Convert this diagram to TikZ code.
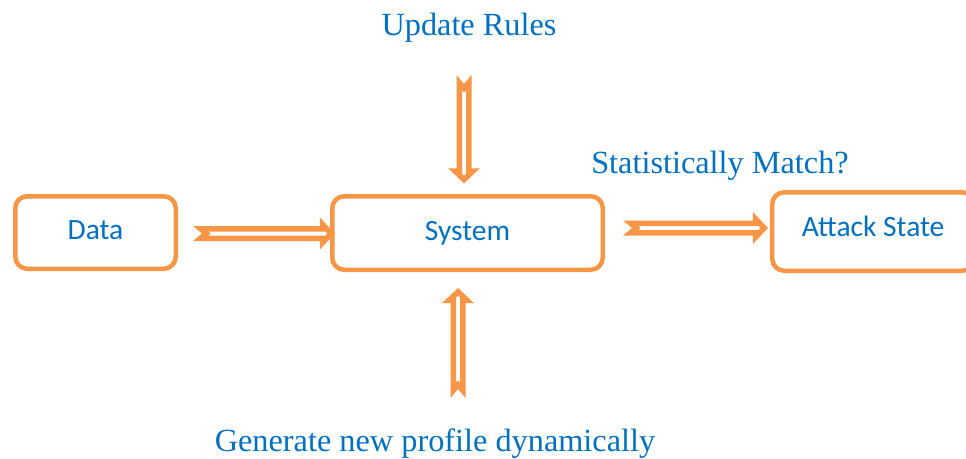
\documentclass[tikz,border=0pt]{standalone}
\usepackage{fontspec}
\setmainfont{Liberation Serif}
\newfontfamily\boxfont{Carlito}
\usetikzlibrary{calc}

\definecolor{accent}{HTML}{F79646}
\definecolor{labelblue}{HTML}{0070C0}

% geometry of the notched hollow arrows (measured on the centre line of the outline)
\newcommand\arShaft{4.75}
\newcommand\arHead{9}
\newcommand\arHeadLen{8.5}
\newcommand\arNotch{5.7}

\tikzset{
  box/.style={draw=accent, line width=4.5pt, rounded corners=12pt, fill=white,
    inner sep=0pt, text=labelblue, font=\boxfont\fontsize{29.5}{35}\selectfont,
    text height=17pt, text depth=3pt},
  caption/.style={anchor=base, inner sep=0pt, text=labelblue,
    font=\fontsize{32.3}{38}\selectfont},
  notched/.style={draw=accent, line width=5.5pt, fill=white, line join=miter,
    to path={let \p1=(\tikztostart), \p2=(\tikztotarget),
      \n1={atan2(\y2-\y1,\x2-\x1)} in
      ($(\p1)+(\n1+90:\arShaft)$)
      -- ($(\p2)+(\n1+180:\arHeadLen)+(\n1+90:\arShaft)$)
      -- ($(\p2)+(\n1+180:\arHeadLen)+(\n1+90:\arHead)$)
      -- (\p2)
      -- ($(\p2)+(\n1+180:\arHeadLen)+(\n1-90:\arHead)$)
      -- ($(\p2)+(\n1+180:\arHeadLen)+(\n1-90:\arShaft)$)
      -- ($(\p1)+(\n1-90:\arShaft)$)
      -- ($(\p1)+(\n1:\arNotch)$)
      -- cycle}},
}

\begin{document}
\begin{tikzpicture}[x=1pt,y=1pt]
  \useasboundingbox (0,0) rectangle (966,-458);

  % boxes
  \node[box, minimum width=160.5pt, minimum height=72.5pt] (data) at (95.5,-232.5) {Data};
  \node[box, minimum width=270.5pt, minimum height=73.5pt] (sys) at (467.5,-233) {System};
  \node[box, minimum width=201.75pt, minimum height=78.5pt,
        text height=14pt, text depth=3.5pt] (attack) at (873.1,-231.5) {Attack State};

  % captions
  \node[caption] (upd) at (469,-35) {Update Rules};
  \node[caption] (stat) at (720,-173.3) {Statistically Match?};
  \node[caption] (gen) at (435,-451.7) {Generate new profile dynamically};

  % arrow end points
  \coordinate (dataout) at (200.6,-233.5);
  \coordinate (sysin)   at (331.2,-233.5);
  \coordinate (updout)  at (464,-82.6);
  \coordinate (systop)  at (464,-179.5);
  \coordinate (genout)  at (458,-390.4);
  \coordinate (sysbot)  at (458,-291.8);
  \coordinate (sysout)  at (630.6,-228);
  \coordinate (attin)   at (764.2,-228);

  % arrows
  \draw[notched] (dataout) to (sysin);
  \draw[notched] (updout) to (systop);
  \draw[notched] (genout) to (sysbot);
  \draw[notched] (sysout) to (attin);
\end{tikzpicture}
\end{document}
